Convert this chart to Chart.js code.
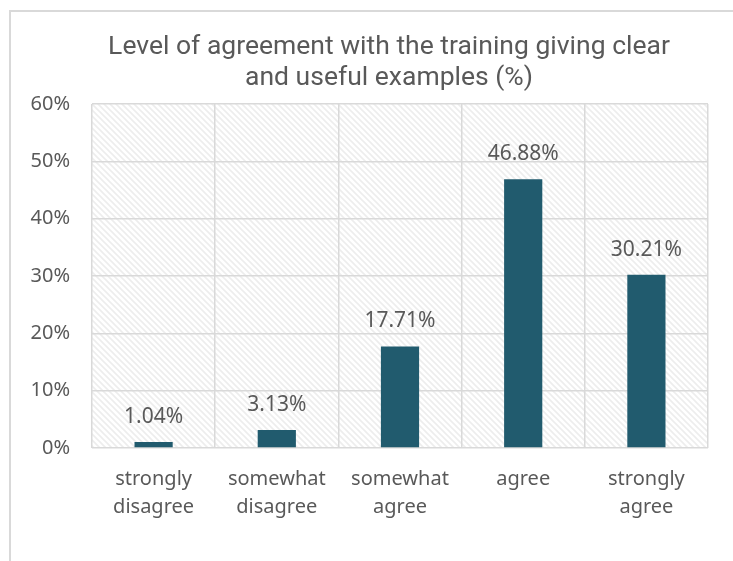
<!DOCTYPE html>
<html>
<head>
<meta charset="utf-8">
<script src="https://cdn.jsdelivr.net/npm/chart.js@4"></script>
<style>
  body { margin: 0; background: #ffffff; }
  #wrap { width: 733px; height: 561px; }
</style>
</head>
<body>
<div id="wrap"><canvas id="agreeChart" width="733" height="561"></canvas></div>
<script>
const titleLines = [
    "Level of agreement with the training giving clear",
    "and useful examples (%)",
];
const categories = [
    ["strongly", "disagree"],
    ["somewhat", "disagree"],
    ["somewhat", "agree"],
    ["agree"],
    ["strongly", "agree"],
];
const percentValues = [1.04, 3.13, 17.71, 46.88, 30.21];
const yTicks = [0, 10, 20, 30, 40, 50, 60];

const textColor = "#595959";
const gridColor = "#d9d9d9";
const barColor = "#215b6e";
const labelFont = "Noto Sans";

// diagonal hatch for the plot area
function makeHatch() {
    const c = document.createElement("canvas");
    c.width = 6;
    c.height = 6;
    const g = c.getContext("2d");
    g.fillStyle = "#ffffff";
    g.fillRect(0, 0, 6, 6);
    g.strokeStyle = "#ededed";
    g.lineWidth = 1.6;
    g.beginPath();
    g.moveTo(-1, -1);
    g.lineTo(7, 7);
    g.moveTo(-4, 2);
    g.lineTo(4, 10);
    g.moveTo(2, -4);
    g.lineTo(10, 4);
    g.stroke();
    return g.createPattern(c, "repeat");
}

const frameAndHatch = {
    id: "frameAndHatch",
    beforeDraw(chart) {
        const ctx = chart.ctx;
        const a = chart.chartArea;
        ctx.save();
        ctx.strokeStyle = gridColor;
        ctx.lineWidth = 2;
        ctx.beginPath();
        ctx.moveTo(10, chart.height);
        ctx.lineTo(10, 11);
        ctx.lineTo(chart.width, 11);
        ctx.stroke();
        ctx.fillStyle = makeHatch();
        ctx.fillRect(a.left, a.top, a.right - a.left, a.bottom - a.top);
        // title, centred a little right of the canvas like the original
        ctx.fillStyle = textColor;
        ctx.font = "26.5px Roboto";
        ctx.textAlign = "center";
        ctx.textBaseline = "middle";
        titleLines.forEach((line, i) => {
            ctx.fillText(line, 389, 47 + i * 31);
        });
        ctx.restore();
    },
};

const valueLabels = {
    id: "valueLabels",
    afterDatasetsDraw(chart) {
        const ctx = chart.ctx;
        const meta = chart.getDatasetMeta(0);
        ctx.save();
        ctx.fillStyle = textColor;
        ctx.font = "21px '" + labelFont + "'";
        ctx.textAlign = "center";
        ctx.textBaseline = "middle";
        meta.data.forEach((bar, i) => {
            ctx.fillText(percentValues[i].toFixed(2) + "%", bar.x, bar.y - 25);
        });
        ctx.restore();
    },
};

new Chart(document.getElementById("agreeChart"), {
    type: "bar",
    data: {
        labels: categories,
        datasets: [
            {
                label: "Agreement",
                data: percentValues,
                backgroundColor: barColor,
                borderWidth: 0,
                categoryPercentage: 1,
                barPercentage: 0.31,
            },
        ],
    },
    options: {
        responsive: false,
        animation: false,
        layout: {
            padding: { top: 104, left: 30, right: 25, bottom: 0 },
        },
        scales: {
            x: {
                grid: { color: gridColor, lineWidth: 1.5, drawTicks: false },
                border: { display: false },
                ticks: {
                    color: textColor,
                    font: { family: labelFont, size: 20, lineHeight: 1.4 },
                    padding: 17,
                    maxRotation: 0,
                    autoSkip: false,
                },
                afterFit: (scale) => {
                    scale.height = 113;
                    scale.paddingLeft = 0;
                    scale.paddingRight = 0;
                },
            },
            y: {
                min: 0,
                max: 60,
                afterBuildTicks: (scale) => {
                    scale.ticks = yTicks.map((v) => ({ value: v }));
                },
                grid: { color: gridColor, lineWidth: 1.5, drawTicks: false },
                border: { display: false },
                ticks: {
                    color: textColor,
                    font: { family: labelFont, size: 20 },
                    padding: 22,
                    callback: (v) => v + "%",
                },
                afterFit: (scale) => {
                    scale.width = 62;
                    scale.paddingTop = 0;
                    scale.paddingBottom = 0;
                },
            },
        },
        plugins: {
            legend: { display: false },
            tooltip: { enabled: false },
            title: { display: false },
        },
    },
    plugins: [frameAndHatch, valueLabels],
});
</script>
</body>
</html>
